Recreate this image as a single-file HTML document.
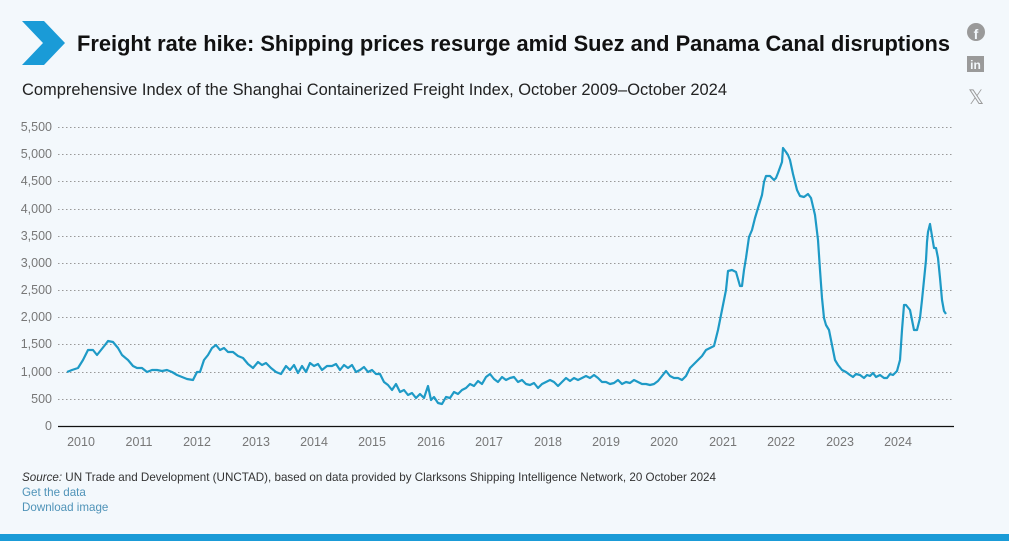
<!DOCTYPE html>
<html><head><meta charset="utf-8"><style>
html,body{margin:0;padding:0;width:1009px;height:541px;overflow:hidden;background:#f3f8fc;font-family:"Liberation Sans",Arial,sans-serif}
</style></head><body>
<svg width="1009" height="541" xmlns="http://www.w3.org/2000/svg" style="position:absolute;left:0;top:0">
<rect x="0" y="0" width="1009" height="541" fill="#f3f8fc"/>
<polygon points="22,21 44,21 65,43 44,65 22,65 43,43" fill="#1a9bd7"/>
<text x="77" y="51" font-size="21.8" font-weight="bold" fill="#111" textLength="873" lengthAdjust="spacingAndGlyphs">Freight rate hike: Shipping prices resurge amid Suez and Panama Canal disruptions</text>
<text x="22" y="95" font-size="16.5" fill="#222" textLength="705" lengthAdjust="spacingAndGlyphs">Comprehensive Index of the Shanghai Containerized Freight Index, October 2009–October 2024</text>
<circle cx="976" cy="32" r="9" fill="#9a9a9a"/>
<text x="976" y="39" font-size="14" font-weight="bold" fill="#f3f8fc" text-anchor="middle">f</text>
<rect x="967" y="56" width="17" height="16" fill="#9a9a9a"/>
<text x="975.5" y="69" font-size="12" font-weight="bold" fill="#f3f8fc" text-anchor="middle">in</text>
<text x="976" y="104" font-size="20" fill="#9a9a9a" text-anchor="middle">𝕏</text>
<g stroke="#999" stroke-width="1" stroke-dasharray="1.5,2.5">
<line x1="58" y1="127.5" x2="954" y2="127.5"/><line x1="58" y1="154.5" x2="954" y2="154.5"/><line x1="58" y1="181.5" x2="954" y2="181.5"/><line x1="58" y1="209.5" x2="954" y2="209.5"/><line x1="58" y1="236.5" x2="954" y2="236.5"/><line x1="58" y1="263.5" x2="954" y2="263.5"/><line x1="58" y1="290.5" x2="954" y2="290.5"/><line x1="58" y1="317.5" x2="954" y2="317.5"/><line x1="58" y1="344.5" x2="954" y2="344.5"/><line x1="58" y1="372.5" x2="954" y2="372.5"/><line x1="58" y1="399.5" x2="954" y2="399.5"/>
</g>
<line x1="58" y1="426.5" x2="954" y2="426.5" stroke="#111" stroke-width="1.2"/>
<g font-size="12.5" fill="#777" text-anchor="end">
<text x="52" y="131">5,500</text><text x="52" y="158">5,000</text><text x="52" y="185">4,500</text><text x="52" y="213">4,000</text><text x="52" y="240">3,500</text><text x="52" y="267">3,000</text><text x="52" y="294">2,500</text><text x="52" y="321">2,000</text><text x="52" y="348">1,500</text><text x="52" y="376">1,000</text><text x="52" y="403">500</text><text x="52" y="430">0</text>
</g>
<g font-size="12.5" fill="#777" text-anchor="middle">
<text x="81" y="446">2010</text><text x="139" y="446">2011</text><text x="197" y="446">2012</text><text x="256" y="446">2013</text><text x="314" y="446">2014</text><text x="372" y="446">2015</text><text x="431" y="446">2016</text><text x="489" y="446">2017</text><text x="548" y="446">2018</text><text x="606" y="446">2019</text><text x="664" y="446">2020</text><text x="723" y="446">2021</text><text x="781" y="446">2022</text><text x="840" y="446">2023</text><text x="898" y="446">2024</text>
</g>
<polyline fill="none" stroke="#1e9ac6" stroke-width="2.2" stroke-linejoin="round" points="67,372 72,370 78,368 83,360 88,350 93,350 97,355 101,350 105,345 108,341 113,342 118,348 122,355 128,360 133,366 137,368 142,368 147,372 152,370 157,370 162,371 167,370 172,372 177,375 182,377 187,379 193,380 197,372 200,372 204,360 208,355 212,348 216,345 220,350 224,348 228,352 233,352 238,356 243,358 248,364 253,368 258,362 262,365 266,363 271,368 276,372 281,374 286,366 290,370 294,365 298,373 302,366 306,372 310,363 314,366 318,364 322,370 327,366 332,366 336,364 340,370 344,365 348,368 352,365 356,372 360,370 364,367 368,372 372,370 376,374 380,374 384,382 388,385 392,390 396,384 400,392 404,390 408,395 412,393 416,398 420,394 424,398 428,386 431,400 434,397 438,403 442,404 446,397 450,398 454,392 458,394 462,390 466,388 470,384 474,386 478,381 482,384 486,377 490,374 494,379 498,382 502,377 506,380 510,378 514,377 518,382 522,380 526,384 530,385 534,383 538,388 542,384 546,382 550,380 554,382 558,386 562,382 566,378 570,381 574,378 578,380 582,378 586,376 590,378 594,375 598,378 602,382 606,382 610,384 614,383 618,380 622,384 626,382 630,383 634,380 638,382 642,384 646,384 650,385 654,384 658,381 662,376 666,371 670,376 674,378 678,378 682,380 686,376 690,368 694,364 698,360 702,356 706,350 710,348 714,346 718,330 722,310 724,300 726,290 728,271 732,270 736,272 740,286 742,286 744,270 746,258 749,237 752,230 755,218 758,208 762,195 764,182 766,176 770,176 774,180 776,178 778,173 782,162 783,148 786,152 788,155 790,160 793,174 797,190 800,196 804,197 808,194 811,198 815,215 818,240 820,270 822,298 824,318 826,325 829,330 832,345 835,360 838,365 842,370 846,372 850,375 853,377 856,374 860,375 864,378 867,375 870,376 873,373 876,377 880,375 884,378 887,378 890,374 893,375 897,371 900,360 902,330 904,305 906,305 910,310 912,320 914,330 917,330 920,318 922,300 924,280 926,260 927,242 928,232 930,224 932,236 934,248 936,248 938,258 940,278 942,300 944,311 946,314"/>
<text x="22" y="481" font-size="11.6" fill="#333" textLength="694" lengthAdjust="spacingAndGlyphs"><tspan font-style="italic">Source:</tspan> UN Trade and Development (UNCTAD), based on data provided by Clarksons Shipping Intelligence Network, 20 October 2024</text>
<text x="22" y="496" font-size="11.6" fill="#4f93b8">Get the data</text>
<text x="22" y="511" font-size="11.6" fill="#4f93b8">Download image</text>
<rect x="0" y="534" width="1009" height="7" fill="#1a9bd7"/>
</svg>
</body></html>
